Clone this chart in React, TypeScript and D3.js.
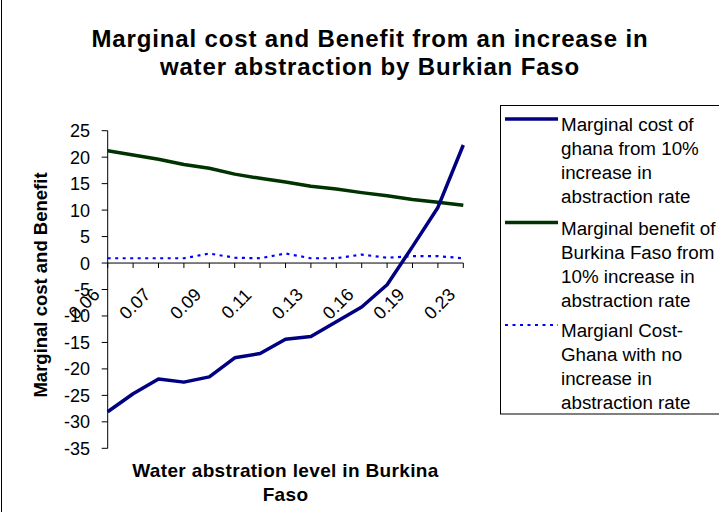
import React from "react";
import * as d3 from "d3";

// Categories: water abstraction level (10% steps). First category is left of the value axis.
const categories = ["0.06", "0.066", "0.073", "0.080", "0.088", "0.097", "0.106", "0.117", "0.129", "0.141", "0.156", "0.171", "0.188", "0.207", "0.228", "0.251"];
const categoryLabels = ["0.06", "", "0.07", "", "0.09", "", "0.11", "", "0.13", "", "0.16", "", "0.19", "", "0.23", ""];
// series start at the second category
const plotCategories = categories.slice(1);
const marginalCostGhana = [-28.1, -24.7, -21.9, -22.5, -21.5, -17.9, -17.1, -14.4, -13.9, -11.1, -8.3, -4.1, 3.1, 10.5, 22.3];
const marginalBenefitBurkina = [21.2, 20.4, 19.6, 18.6, 17.9, 16.8, 16.0, 15.3, 14.5, 14.0, 13.3, 12.7, 12.0, 11.5, 10.9];
const marginalCostNoIncrease = [0.9, 0.9, 0.9, 0.9, 1.8, 1.0, 0.9, 1.8, 0.9, 0.9, 1.6, 1.0, 1.3, 1.3, 0.9];
const yTicks = [25, 20, 15, 10, 5, 0, -5, -10, -15, -20, -25, -30, -35];

const titleLines = ["Marginal cost and Benefit from an increase in", "water abstraction by Burkian Faso"];
const xTitleLines = ["Water abstration level in Burkina", "Faso"];
const yTitle = "Marginal cost and Benefit";
const legendEntries = [
  { lines: ["Marginal cost of", "ghana from 10%", "increase in", "abstraction rate"], color: "#000080", width: 3.5, dash: "" },
  { lines: ["Marginal benefit of", "Burkina Faso from", "10% increase in", "abstraction rate"], color: "#003300", width: 3.5, dash: "" },
  { lines: ["Margianl Cost-", "Ghana with no", "increase in", "abstraction rate"], color: "#0000FF", width: 2.2, dash: "3 4.5" },
];

const W = 719;
const H = 512;
const FONT = "Arial, 'Liberation Sans', sans-serif";

export default function App() {
  const x = d3.scalePoint<string>().domain(categories).range([82.3, 463.3]);
  const y = d3.scaleLinear().domain([-35, 25]).range([448.3, 130.7]);
  const axisX = x(plotCategories[0]) as number;
  const y0 = y(0);

  const mkLine = (vals: number[]) =>
    d3
      .line<number>()
      .x((_, i) => x(plotCategories[i]) as number)
      .y((v) => y(v))(vals) as string;

  const series = [
    { vals: marginalCostNoIncrease, ...legendEntries[2] },
    { vals: marginalBenefitBurkina, ...legendEntries[1] },
    { vals: marginalCostGhana, ...legendEntries[0] },
  ];

  const legendBase = [131, 234.5, 337];
  const lineH = 24;

  return (
    <svg width={W} height={H} style={{ position: "absolute", left: 0, top: 0, background: "#fff" }} fontFamily={FONT}>
      <rect x={0} y={0} width={W} height={H} fill="#fff" />
      <line x1={1.5} y1={0} x2={1.5} y2={H} stroke="#000" strokeWidth={1} />

      {/* title */}
      {titleLines.map((t, i) => (
        <text key={i} x={370} y={47 + i * 28} textAnchor="middle" fontSize={24} fontWeight="bold" letterSpacing={0.85} fill="#000">
          {t}
        </text>
      ))}

      {/* y axis */}
      <line x1={axisX} x2={axisX} y1={y(25)} y2={y(-35)} stroke="#000" strokeWidth={1} />
      {yTicks.map((t) => (
        <g key={t}>
          <line x1={axisX - 6} x2={axisX} y1={y(t)} y2={y(t)} stroke="#000" strokeWidth={1} />
          <text x={90} y={y(t)} dy="0.36em" textAnchor="end" fontSize={18} fill="#000">
            {t}
          </text>
        </g>
      ))}

      {/* x axis */}
      <line x1={axisX} x2={x(categories[categories.length - 1]) as number} y1={y0} y2={y0} stroke="#000" strokeWidth={1} />
      {plotCategories.map((c) => (
        <line key={c} x1={x(c) as number} x2={x(c) as number} y1={y0} y2={y0 + 5} stroke="#000" strokeWidth={1} />
      ))}
      {categories.map((c, i) =>
        categoryLabels[i] ? (
          <text
            key={c}
            transform={`translate(${(x(c) as number) + 1.5},${y0 + 40.5}) rotate(-45)`}
            textAnchor="middle"
            dy="0.36em"
            fontSize={18}
            fill="#000"
          >
            {categoryLabels[i]}
          </text>
        ) : null
      )}

      {/* series */}
      {series.map((s, i) => (
        <path key={i} d={mkLine(s.vals)} fill="none" stroke={s.color} strokeWidth={s.width} strokeDasharray={s.dash || undefined} strokeLinejoin="round" />
      ))}

      {/* axis titles */}
      {xTitleLines.map((t, i) => (
        <text key={i} x={285.5} y={477 + i * 24} textAnchor="middle" fontSize={19} fontWeight="bold" letterSpacing={0.35} fill="#000">
          {t}
        </text>
      ))}
      <text transform="translate(46.5,285) rotate(-90)" textAnchor="middle" fontSize={18.5} fontWeight="bold" fill="#000">
        {yTitle}
      </text>

      {/* legend */}
      <rect x={500.5} y={105.5} width={240} height={308.5} fill="#fff" stroke="#000" strokeWidth={1} />
      {legendEntries.map((e, i) => (
        <g key={i}>
          <line x1={505} x2={558} y1={legendBase[i] - 12} y2={legendBase[i] - 12} stroke={e.color} strokeWidth={e.width} strokeDasharray={e.dash || undefined} />
          {e.lines.map((l, j) => (
            <text key={j} x={561} y={legendBase[i] + j * lineH} fontSize={18.8} fill="#000">
              {l}
            </text>
          ))}
        </g>
      ))}
    </svg>
  );
}
